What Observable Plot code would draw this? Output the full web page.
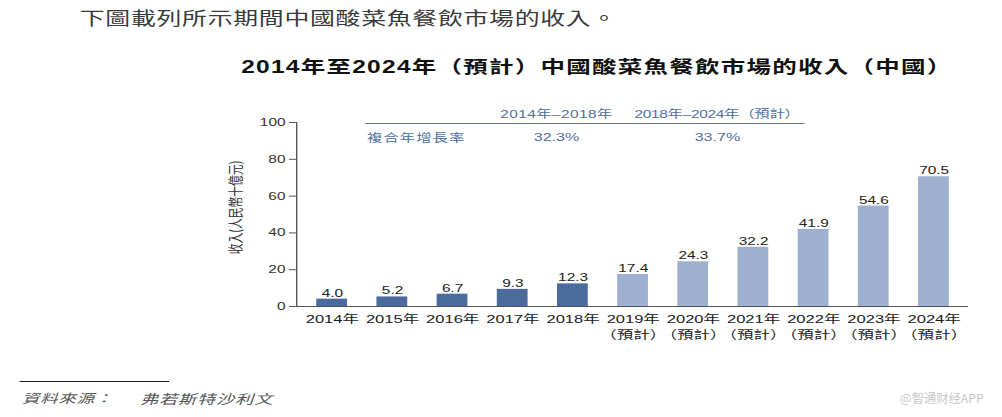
<!DOCTYPE html>
<html>
<head>
<meta charset="utf-8">
<script src="https://cdn.jsdelivr.net/npm/d3@7"></script>
<script src="https://cdn.jsdelivr.net/npm/@observablehq/plot@0.6"></script>
<style>
  html, body { margin: 0; padding: 0; background: #fff; }
  #page { position: relative; width: 1002px; height: 417px; overflow: hidden; }
  #stage {
    position: absolute; left: 0; top: 0; width: 716px; height: 417px;
    transform: scaleX(1.39944); transform-origin: 0 0;
    font-family: "Liberation Sans", "Noto Sans CJK TC", sans-serif;
  }
  #stage svg { position: absolute; left: 0; top: 0; }
  .t { position: absolute; white-space: nowrap; line-height: 1; }
  .c { transform: translateX(-50%); }
  #intro { left: 57px; top: 8.5px; font-size: 17.8px; letter-spacing: 0.5px; color: #3a3a3a; font-family: "Noto Sans CJK TC", sans-serif; }
  #title { left: 426.5px; top: 58.5px; font-size: 17.5px; font-weight: bold; letter-spacing: 0.9px; color: #111; }
  .cagr { color: #4f6f9f; font-size: 11px; }
  #rule { position: absolute; left: 260.8px; top: 123px; width: 314.4px; height: 0; border-top: 1.2px solid #5b78a5; }
  #footrule { position: absolute; left: 14.3px; top: 381px; width: 107px; height: 0; border-top: 1px solid #222; }
  #source { left: 15.7px; top: 392px; font-size: 12.5px; font-style: italic; color: #555; letter-spacing: 0.5px; font-family: "Noto Sans CJK TC", sans-serif; }
  #sourceName { left: 100px; top: 392px; font-size: 13px; font-style: italic; color: #555; letter-spacing: 0.6px; font-family: "Noto Sans CJK TC", sans-serif; }
  #mark { position: absolute; left: 900px; top: 392px; font-size: 12.3px; color: #c8c8c8; font-family: "Noto Sans CJK SC", sans-serif; white-space: nowrap; line-height: 1; }
</style>
</head>
<body>
<div id="page">
  <div id="stage"></div>
</div>
<script>
// ---- data ----
const years = ["2014年","2015年","2016年","2017年","2018年","2019年","2020年","2021年","2022年","2023年","2024年"];
const revenue = [4.0, 5.2, 6.7, 9.3, 12.3, 17.4, 24.3, 32.2, 41.9, 54.6, 70.5];
const isForecast = [false, false, false, false, false, true, true, true, true, true, true];
const yTicks = [0, 20, 40, 60, 80, 100];
const forecastNote = "（預計）";
const cagrPeriods = ["2014年–2018年", "2018年–2024年（預計）"];
const cagrValues = ["32.3%", "33.7%"];
const cagrLabel = "複合年增長率";
const yLabel = "收入(人民幣十億元)";
const introText = "下圖載列所示期間中國酸菜魚餐飲市場的收入。";
const titleText = "2014年至2024年（預計）中國酸菜魚餐飲市場的收入（中國）";
const sourceLabel = "資料來源：";
const sourceName = "弗若斯特沙利文";
const watermark = "@智通财经APP";

const darkBlue = "#4b6b9c";
const lightBlue = "#9db0cf";

const data = years.map((y, i) => ({year: y, value: revenue[i], forecast: isForecast[i]}));
const tickLabel = new Map(years.map((y, i) => [y, isForecast[i] ? y + "\n" + forecastNote : y]));

const chart = Plot.plot({
  width: 716,
  height: 417,
  marginLeft: 211.5,
  marginRight: 24.3,
  marginTop: 122,
  marginBottom: 111,
  style: {fontFamily: '"Liberation Sans", "Noto Sans CJK TC", sans-serif', color: "#222", background: "transparent", overflow: "visible"},
  x: {domain: years, paddingInner: 0.5, paddingOuter: 0.25, axis: null},
  y: {domain: [0, 100], axis: null},
  color: {domain: [false, true], range: [darkBlue, lightBlue]},
  marks: [
    Plot.barY(data, {x: "year", y: "value", fill: "forecast"}),
    Plot.text(data, {x: "year", y: "value", text: d => d.value.toFixed(1), lineAnchor: "bottom", dy: -2.5, fontSize: 11, fill: "#222"}),
    Plot.axisX({tickSize: 0, tickPadding: 6, fontSize: 11.8, lineHeight: 1.3, label: null, tickFormat: d => tickLabel.get(d), fill: "#1a1a1a"}),
    Plot.axisY({ticks: yTicks, tickSize: 5, tickPadding: 3, fontSize: 11, label: null, stroke: "#555", fill: "#333"}),
    Plot.text([yLabel], {frameAnchor: "left", textAnchor: "middle", text: d => d, rotate: -90, dx: -43, dy: -7, fontSize: 10.8, fill: "#333", fontFamily: '"Noto Sans CJK TC", sans-serif'}),
    Plot.ruleY([0], {stroke: "#555"}),
    Plot.frame({anchor: "left", stroke: "#555"})
  ]
});

const stage = document.getElementById("stage");
stage.appendChild(chart);

function addText(parent, id, cls, text, style) {
  const el = document.createElement("div");
  if (id) el.id = id;
  el.className = "t " + (cls || "");
  el.textContent = text;
  Object.assign(el.style, style || {});
  parent.appendChild(el);
  return el;
}

addText(stage, "intro", "", introText);
addText(stage, "title", "c", titleText);
const rule = document.createElement("div"); rule.id = "rule"; stage.appendChild(rule);
addText(stage, null, "c cagr", cagrPeriods[0], {left: "397.7px", top: "108.5px", letterSpacing: "0.3px"});
addText(stage, null, "c cagr", cagrPeriods[1], {left: "512.4px", top: "108.5px", letterSpacing: "-0.2px"});
addText(stage, null, "cagr", cagrLabel, {left: "262.3px", top: "131.5px", letterSpacing: "0.7px", fontFamily: '"Noto Sans CJK TC", sans-serif'});
addText(stage, null, "c cagr", cagrValues[0], {left: "397.7px", top: "131.5px", fontSize: "11.5px"});
addText(stage, null, "c cagr", cagrValues[1], {left: "512.7px", top: "131.5px", fontSize: "11.5px"});
const fr = document.createElement("div"); fr.id = "footrule"; stage.appendChild(fr);
addText(stage, "source", "", sourceLabel);
addText(stage, "sourceName", "", sourceName);
const wm = document.createElement("div"); wm.id = "mark"; wm.textContent = watermark;
document.getElementById("page").appendChild(wm);
</script>
</body>
</html>
